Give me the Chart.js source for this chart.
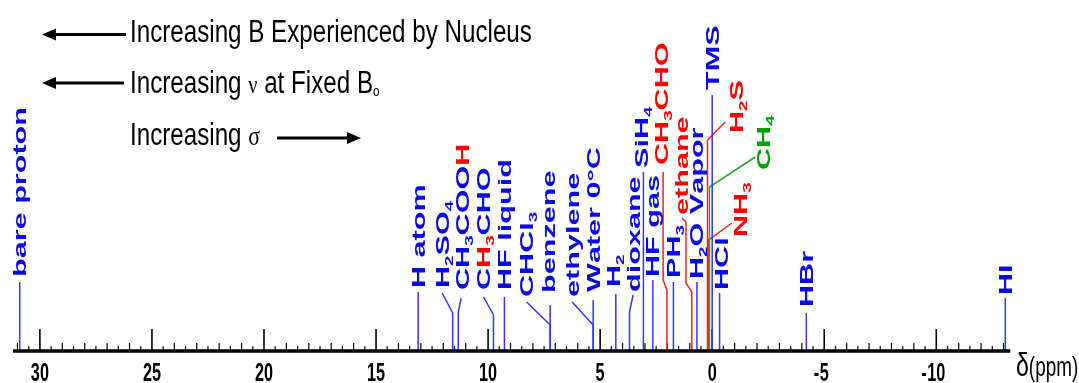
<!DOCTYPE html>
<html>
<head>
<meta charset="utf-8">
<script src="https://cdn.jsdelivr.net/npm/chart.js@4/dist/chart.umd.min.js"></script>
<style>
  body { margin: 0; background: #ffffff; }
  #wrap { width: 1079px; height: 383px; }
</style>
</head>
<body>
<div id="wrap"><canvas id="nmrChart" width="1079" height="383"></canvas></div>
<script>
// chemical shifts (ppm) of 1H in various species
const nombres = ['bare proton', 'H atom', 'H_2SO_4', 'CH_3COO*H*', 'C*H_3*CHO', 'HF liquid', 'CHCl_3',
    'benzene', 'ethylene', 'Water 0°C', 'H_2', 'dioxane', 'SiH_4', 'HF gas', 'CH_3CHO', 'PH_3',
    'ethane', 'H_2O Vapor', 'TMS', 'H_2S', 'CH_4', 'NH_3', 'HCl', 'HBr', 'HI'];
const desplazamientos = [30.9, 13.12, 11.58, 11.33, 9.76, 9.27, 7.23, 7.23, 5.31, 5.31, 4.30, 3.69,
    3.07, 2.65, 2.02, 1.73, 0.91, 0.68, 0, 0.21, 0.12, 0.15, -0.33, -4.2, -13.08];
const cores = ['b', 'b', 'b', 'b', 'b', 'b', 'b', 'b', 'b', 'b', 'b', 'b', 'b', 'b', 'r', 'b',
    'r', 'b', 'b', 'r', 'g', 'r', 'b', 'b', 'b'];
const marcasEixo = [30, 25, 20, 15, 10, 5, 0, -5, -10];

// leader lines (shift, height) after the foot, label column shift and text start height
const guias = [
    [[30.9, 68]], [[13.12, 58]], [[11.58, 37], [12.05, 57]], [[11.33, 38], [11.2, 52]],
    [[9.76, 35], [10.2, 53]], [[9.27, 53]], [[7.23, 25], [8.28, 48]], [[7.23, 45]],
    [[5.31, 25], [6.25, 48]], [[5.31, 50]], [[4.30, 56]], [[3.69, 38], [3.53, 55]],
    [[3.07, 178]], [[2.65, 70]], [[2.02, 60], [2.19, 70], [2.19, 178]], [[1.73, 68]],
    [[0.91, 58], [1.17, 67], [1.17, 128], [1.35, 132]], [[0.68, 68]], [[0, 255]],
    [[0.21, 210], [-0.58, 228]], [[0.12, 163], [-1.92, 193]], [[0.15, 110], [-0.88, 127]],
    [[-0.33, 57]], [[-4.2, 37]], [[-13.08, 52]]
];
const colunaRotulo = [30.9, 13.12, 12.05, 11.15, 10.2, 9.27, 8.28, 7.3, 6.25, 5.31, 4.42, 3.53,
    3.14, 2.65, 2.25, 1.74, 1.37, 0.68, 0, -1.1, -2.28, -1.25, -0.4, -4.2, -13.08];
const inicioRotulo = [73, 62, 62, 60, 60, 60, 53, 57, 53, 58, 63, 58, 182, 73, 185, 72, 135, 71,
    260, 217, 180, 113, 60, 43, 55];

const COR_LINHA = { b: '#3535ff', r: '#ff2020', g: '#22aa22' };
const COR_TEXTO = { b: '#0a0ae6', r: '#ff0000', g: '#00a000' };
const FONTE = '"Liberation Sans", Arial, sans-serif';

function rotuloVertical(ctx, x, y, texto, cor) {
    const fs = 18;
    ctx.save();
    ctx.translate(x, y);
    ctx.rotate(-Math.PI / 2);
    ctx.scale(1.7, 1);
    let cx = 0;
    let vermelho = false;
    for (let i = 0; i < texto.length; i++) {
        let ch = texto[i];
        if (ch === '*') { vermelho = !vermelho; continue; }
        let sub = false;
        if (ch === '_') { sub = true; ch = texto[++i]; }
        ctx.font = 'bold ' + (sub ? 11 : fs) + 'px ' + FONTE;
        ctx.fillStyle = vermelho ? COR_TEXTO.r : cor;
        ctx.fillText(ch, cx, fs * 0.36 + (sub ? 4 : 0));
        cx += ctx.measureText(ch).width;
    }
    ctx.restore();
}

function textoCorrido(ctx, x, base, partes, sx) {
    ctx.save();
    ctx.translate(x, base);
    ctx.scale(sx, 1);
    ctx.fillStyle = '#000';
    let cx = 0;
    partes.forEach(p => {
        ctx.font = p.font;
        ctx.fillText(p.t, cx, p.dy || 0);
        cx += ctx.measureText(p.t).width;
    });
    ctx.restore();
}

function seta(ctx, x1, x2, y) {
    // arrow from x1 to tip at x2
    const dir = x2 > x1 ? 1 : -1;
    ctx.save();
    ctx.strokeStyle = '#000';
    ctx.fillStyle = '#000';
    ctx.lineWidth = 3;
    ctx.beginPath();
    ctx.moveTo(x1, y);
    ctx.lineTo(x2 - dir * 8, y);
    ctx.stroke();
    ctx.beginPath();
    ctx.moveTo(x2, y);
    ctx.lineTo(x2 - dir * 14, y - 6);
    ctx.lineTo(x2 - dir * 14, y + 6);
    ctx.closePath();
    ctx.fill();
    ctx.restore();
}

const eixoPlugin = {
    id: 'eixo',
    beforeDatasetsDraw(chart) {
        const ctx = chart.ctx;
        const x = chart.scales.x;
        const y0 = chart.scales.y.getPixelForValue(0);
        ctx.save();
        ctx.strokeStyle = '#000';
        for (let v = 31; v >= -13; v -= 0.5) {
            const px = x.getPixelForValue(v);
            const maior = marcasEixo.includes(v);
            const alt = maior ? 21 : (Number.isInteger(v) ? 7 : 4);
            ctx.lineWidth = maior ? 1.6 : 1.2;
            ctx.beginPath();
            ctx.moveTo(px, y0);
            ctx.lineTo(px, y0 - alt);
            ctx.stroke();
        }
        ctx.restore();
    },
    afterDatasetsDraw(chart) {
        const ctx = chart.ctx;
        const x = chart.scales.x;
        const y = chart.scales.y;
        const y0 = y.getPixelForValue(0);

        // axis line
        ctx.save();
        ctx.strokeStyle = '#000';
        ctx.lineWidth = 3.5;
        ctx.beginPath();
        ctx.moveTo(x.getPixelForValue(31.2), y0 + 1);
        ctx.lineTo(x.getPixelForValue(-13.3), y0 + 1);
        ctx.stroke();
        ctx.restore();

        // tick numbers
        marcasEixo.forEach(v => {
            const px = x.getPixelForValue(v);
            ctx.save();
            ctx.translate(px, 381);
            ctx.scale(0.65, 1);
            ctx.font = 'bold 25px ' + FONTE;
            ctx.fillStyle = '#000';
            ctx.textAlign = 'center';
            const s = String(Math.abs(v));
            ctx.fillText(s, 0, 0);
            if (v < 0) {
                const w = ctx.measureText(s).width;
                ctx.textAlign = 'right';
                ctx.fillText('-', -w / 2 - 1, 0);
            }
            ctx.restore();
        });
        textoCorrido(ctx, 1016, 376, [
            { t: 'δ', font: '33px ' + FONTE },
            { t: '(ppm)', font: '27px ' + FONTE, dy: 0 }
        ], 0.7);

        // labels
        nombres.forEach((n, i) => {
            rotuloVertical(ctx, x.getPixelForValue(colunaRotulo[i]),
                y.getPixelForValue(inicioRotulo[i]), n, COR_TEXTO[cores[i]]);
        });

        // header
        const f = '31px ' + FONTE;
        const serif = '"Liberation Serif", "DejaVu Serif", serif';
        textoCorrido(ctx, 130, 41.5, [{ t: 'Increasing B Experienced by Nucleus', font: f }], 0.78);
        textoCorrido(ctx, 130, 92.5, [
            { t: 'Increasing ', font: f },
            { t: 'ν', font: '26px ' + serif },
            { t: ' at Fixed B', font: f },
            { t: 'o', font: '15px ' + FONTE, dy: 3 }
        ], 0.78);
        textoCorrido(ctx, 130, 145, [
            { t: 'Increasing ', font: f },
            { t: 'σ', font: '28px ' + serif }
        ], 0.78);
        seta(ctx, 126, 42, 34.5);
        seta(ctx, 124, 42, 83);
        seta(ctx, 277, 361, 138);
    }
};

const conjuntos = nombres.map((n, i) => ({
    label: n.replace(/[_*]/g, ''),
    data: [{ x: desplazamientos[i], y: 0 }].concat(guias[i].map(p => ({ x: p[0], y: p[1] }))),
    showLine: true,
    borderColor: COR_LINHA[cores[i]],
    borderWidth: 1.5,
    pointRadius: 0,
    tension: 0
}));

new Chart(document.getElementById('nmrChart').getContext('2d'), {
    type: 'scatter',
    data: { datasets: conjuntos },
    options: {
        responsive: false,
        animation: false,
        layout: { padding: { left: 13, right: 71, top: 0, bottom: 33 } },
        scales: {
            x: { type: 'linear', reverse: true, min: -13.2, max: 31.2, display: false },
            y: { type: 'linear', min: 0, max: 350, display: false }
        },
        plugins: {
            legend: { display: false },
            tooltip: { enabled: false }
        }
    },
    plugins: [eixoPlugin]
});
</script>
</body>
</html>
